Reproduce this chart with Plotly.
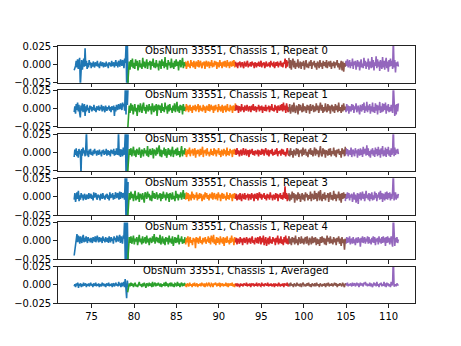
import numpy as np
import plotly.graph_objects as go

# ---------------- data (values in units of 1e-3) ----------------
seg_start = [72.95, 79.25, 86.0, 91.95, 98.25, 104.9]
seg_end = [79.3, 86.0, 91.95, 98.25, 104.9, 111.15]
seg_colors = ['#1f77b4', '#2ca02c', '#ff7f0e', '#d62728', '#8c564b', '#9467bd']
draw_order = [0, 2, 1, 3, 5, 4]

titles = ["ObsNum 33551, Chassis 1, Repeat 0",
          "ObsNum 33551, Chassis 1, Repeat 1",
          "ObsNum 33551, Chassis 1, Repeat 2",
          "ObsNum 33551, Chassis 1, Repeat 3",
          "ObsNum 33551, Chassis 1, Repeat 4",
          "ObsNum 33551, Chassis 1, Averaged"]

x_ticks = [75, 80, 85, 90, 95, 100, 105, 110]
y_ticks = [-0.025, 0.0, 0.025]
y_tick_text = ["\u22120.025", "0.000", "0.025"]

# Repeat 0
b0 = [-8,-6,-2,5,-4,7,-6,3,9,-30,-5,6,-7,4,8,-3,22,-2,5,-6,2,-4,6,-1,3,-5,
      2,-3,4,-1,-4,3,0,-2,5,-3,1,-5,2,4,-2,-1,3,-4,2,0,-3,4,-2,1,-5,3,-1,2,-3,5,-2,0,3,-4,1,6,-2,3,
      -4,5,2,-3,7,1,-2,6,3,-5,8,2,25,-30,28,-26]
g0 = [-30,-14,4,-7,6,-3,8,-5,2,-6,7,-2,5,-8,3,6,-4,1,-6,9,-3,4,-5,2,7,-6,3,-1,5,-7,4,-2,8,-4,2,-5,6,-3,1,-8,
      5,3,-6,7,-2,4,-5,10,-3,2,-7,6,-1,3,-5,8,-4,2,-6,5,-3,7,-2,4,-8,3,6,-4,2,9,-5,3,-2]
o0 = [-3,4,-6,2,5,-3,1,-5,6,-2,3,-4,5,-1,-6,4,2,-3,6,-4,1,5,-2,-5,3,-1,4,-6,2,5,-3,0,4,-5,3,-2,6,-4,2,-3,
      5,-1,4,-6,3,1,-4,6,-2,3,-5,2,4,-3,5,-1,-4,6,-2,3,-5,4,1,-3,5,-2,6,-4,3]
r0 = [4,-3,2,-5,3,-1,4,-4,1,3,-2,-5,4,0,-3,2,5,-4,1,-2,3,-3,4,-1,2,-5,3,1,-4,2,-2,4,-3,0,5,-4,2,-1,3,-5,
      2,4,-3,1,-2,3,-4,5,-1,2,-3,4,-5,1,3,-2,4,-4,2,-1,5,-3,2,-4,3,1,8,-5,6,-3,4,2]
br0 = [9,-5,6,-7,3,8,-4,5,-6,2,-3,7,-5,1,4,-6,3,-2,5,-7,2,6,-4,1,-5,4,-2,6,-6,3,-1,5,-4,2,-7,4,1,-5,6,-3,
       2,-6,5,-2,3,-4,6,-5,1,4,-3,5,-6,2,-2,4,-5,3,-1,6,-4,2,-7,3,5,-8,4,-10,2,-3]
p0 = [-3,5,-2,7,-4,1,6,-5,3,-2, 8,-6,4,-1,5,-7,2,6,-3,4, -8,3,7,-4,1,-5,9,-2,5,-6, 3,-3,8,-7,4,2,-5,10,-4,6,
      -8,3,-2,11,-5,7,-3,4,-9,6, 2,-6,10,-4,5,-7,3,9,-5,4, -10,6,-3,8,-2,5,-6,35,-4,6, -11,3,-2,4,-3]

# Repeat 1
b1 = [-5,3,-7,6,-2,8,-4,5,-6,-12,4,-3,7,-5,2,6,-10,3,-4,5,-2,1,-6,4,-1,3,-4,2,-2,5,-3,1,-5,3,0,-2,4,-3,2,-1,
      5,-4,1,3,-2,-5,4,0,-3,2,-1,4,-3,2,-5,3,1,-2,4,-10,2,-4,5,1,-2,6,3,-1,7,4,-2,8,3,6,-3,30,-8,32,5,30]
g1 = [-30,-15,4,-6,7,-3,5,-8,2,6,-4,1,-10,5,3,-5,7,-2,-6,4,8,-3,2,-7,5,0,-4,6,-2,3,-8,7,1,-5,4,-3,6,-10,3,5,
      -2,4,-6,7,-3,2,-5,8,-1,3,-7,5,-4,6,-2,1,-6,4,-3,7,-5,2,9,-4,3,-6,5,-2,4,-8,6,-3,2]
o1 = [3,-4,6,-2,4,-5,1,5,-3,2,-6,4,0,-2,5,-4,3,-1,6,-5,2,4,-3,1,-4,5,-2,3,-6,2,4,-1,-3,6,-4,2,5,-2,3,-6,
      4,-3,5,-1,2,-5,6,-2,3,-4,1,5,-6,3,-2,4,-5,2,6,-3,1,-4,5,-2,3,-6,4,2,-3,7]
r1 = [-3,5,-2,4,-6,3,1,-4,6,-2,2,-5,4,0,-3,5,-1,-4,3,2,-5,4,-2,6,-3,1,3,-5,2,-1,5,-4,3,-2,4,-6,2,1,-3,5,
      -4,2,-1,4,-5,3,-2,6,-3,1,-4,5,-2,3,-6,4,1,-3,5,-2,6,-4,8,-2,4,-6,7,-3,-5,2]
br1 = [-4,6,-7,3,5,-5,8,-2,-6,4,2,-8,6,-3,5,-1,-5,7,-4,3,1,-6,5,-2,4,-7,6,-3,2,5,-5,3,-4,7,-2,4,-6,3,8,-3,
       5,-6,2,-4,7,-1,-5,6,-3,4,-7,2,5,-4,3,-6,6,-2,4,-5,8,-3,2,-6,5,-4,7,-2,3]
p1 = [2,-5,6,-3,4,-7,3,1,-4,6, -2,5,-6,3,-1,7,-5,2,4,-3, -8,5,1,-4,6,-2,8,-6,3,-3, 9,-5,4,-2,6,-7,3,-4,8,-5,
      2,-6,7,-3,5,-8,4,-2,9,-6, 3,-5,7,-4,6,-2,8,-7,4,-3, 6,-5,2,-4,5,-3,-6,35,-2,-10, 5,-8,6,-4,7]

# Repeat 2
b2 = [-6,4,-3,6,-5,2,-7,5,-2,3,-30,5,-4,7,-1,3,-5,6,30,-4,2,-6,4,-2,5,-3,1,-4,3,-2,5,-1,2,-4,3,0,-3,4,-2,1,
      -5,3,-1,4,-3,2,-2,5,-4,1,3,-3,2,-5,4,-1,3,-2,5,-4,2,-3,6,1,-3,30,-4,5,-6,4,2,-5,7,-3,6,28,-28,32,-30,25]
g2 = [-28,-10,5,-3,6,-5,2,8,-4,3,-6,5,1,-3,7,-2,-7,4,2,-5,6,-1,3,-4,9,-6,2,5,-3,-1,6,-8,4,2,-4,7,-2,3,10,-5,
      4,-6,3,-2,7,-4,5,-7,2,6,-3,4,-5,1,8,-6,3,-2,5,-4,7,-3,2,-6,4,9,-5,3,-2,6]
o2 = [-3,5,-6,2,4,-2,7,-5,3,-1,5,-4,2,6,-7,3,-2,4,1,-5,5,-3,2,8,-6,3,-1,4,-4,6,-2,1,-5,3,5,-3,2,-4,6,-2,
      4,-5,3,-1,6,-3,2,-6,4,1,-4,5,-2,3,-5,7,-3,2,-4,5,-1,3,-6,4,-2,5,-3]
r2 = [4,-3,6,-2,3,-5,1,4,-4,2,6,-3,-1,5,-4,2,3,-6,4,-2,1,5,-3,2,-4,3,0,-2,4,-5,3,1,-3,5,-2,4,-4,2,6,-1,
      -3,4,-5,2,3,-2,5,-4,1,-3,4,-2,6,-5,2,-1,3,-4,5,-2,4,-3,1,-5,3,6,-2,-4]
br2 = [3,-5,6,-3,2,-7,4,1,-4,6,-2,5,-6,3,-1,4,-5,7,-3,2,5,-4,1,-6,4,-2,6,-3,3,-5,2,7,-4,5,-2,3,-6,4,9,-3,
       -5,6,-2,4,-7,3,1,-4,5,-3,6,-5,2,-2,7,-4,3,-6,4,-1,5,-3,2,-7,6,-2,4,-5,8]
p2 = [-4,6,-2,5,-5,3,1,-3,7,-6, 2,4,-2,-5,6,-1,3,-7,5,2, -4,6,-3,4,-6,8,-2,3,5,-4, 10,-3,6,-5,2,-7,4,-2,6,-4,
      3,-6,7,-2,5,-5,8,-3,4,-7, 6,-2,9,-5,3,-4,7,-6,5,-2, 8,-4,3,-6,6,-3,2,35,-5,7, -3,4,-1,5,-2]

# Repeat 3
b3 = [-4,5,-7,3,6,-3,8,-6,2,-4,5,-1,3,-5,2,4,-2,-4,3,1,-3,5,-2,0,4,-3,2,-5,6,-1,3,5,-2,-4,3,-1,2,-5,4,0,
      -3,5,-2,1,-4,3,-1,4,-3,2,-5,6,-2,3,-1,5,-4,2,-3,6,1,-2,5,3,-4,7,-3,6,4,-2,5,3,-4,30,-30,26,-30,20]
g3 = [-30,-12,5,-4,7,-2,4,-6,3,8,-5,1,-3,6,-7,4,2,-4,5,-2,-8,6,3,-3,7,-1,4,-5,2,-6,8,-2,5,-3,1,6,-4,3,-2,5,
      -6,4,-3,7,-1,3,-5,6,-2,4,-7,5,2,-4,6,-3,1,-6,8,-2,4,-5,3,-1,6,-4,2,9,-3,5]
o3 = [2,-4,6,-3,5,-6,3,1,-5,7,-2,4,-4,2,-1,6,-5,3,-3,5,-2,4,-6,2,3,-4,6,-1,5,-3,2,-5,4,1,-2,6,-4,3,5,-3,
      -2,4,-5,6,-1,3,-6,2,5,-3,4,-2,1,-5,6,-3,2,-4,5,-1,3,-6,4,-2,5,-3]
r3 = [-3,4,-5,2,3,-4,5,-2,-6,4,1,-3,5,-4,2,-1,4,-5,3,2,-4,5,-2,3,-6,4,1,-3,5,-5,2,6,-2,4,-4,3,-1,5,-3,2,
      -5,4,-2,3,-4,6,-1,2,-5,3,1,-4,5,-2,4,-6,3,-1,5,-3,2,-4,6,-2,14,-3,5,-6,3,-4]
br3 = [5,-6,3,-4,7,-2,5,-8,3,1,-5,6,-3,4,-7,2,5,-4,3,-6,6,-1,4,-5,2,-3,7,-6,4,1,-4,8,-3,5,-6,3,7,-5,9,-2,
       -6,4,-3,6,-5,2,-1,5,-7,3,6,-4,2,-5,8,-3,4,-6,3,-2,7,-5,4,-8,5,-3,6,-2,4]
p3 = [-6,4,-3,6,-2,5,-5,3,-1,4, -7,2,6,-4,3,-8,1,5,-10,4, -3,6,-5,2,7,-3,4,-6,5,8, -2,3,-4,5,-6,4,-3,6,-5,2,
      -4,7,-2,5,-6,3,-1,6,-4,8, -3,5,-7,4,2,-5,6,-3,7,-4, 5,-2,6,-5,4,-3,7,35,-5,2, 6,-4,3,-2,4]

# Repeat 4
b4 = [-20,-12,-4,4,9,-2,7,3,-4,6,1,-3,5,8,-2,4,-1,6,2,-3,5,0,3,-2,4,1,-3,5,2,-1,6,-2,3,7,1,-2,5,-1,4,2,
      -3,6,0,3,-2,5,1,-1,4,-3,6,2,-2,5,0,3,-4,6,1,4,-2,7,3,-1,5,8,-3,6,2,-4,7,3,28,-30,30,-30,26,-25]
g4 = [-30,-6,5,-3,6,-4,2,7,-5,3,-1,5,-6,4,8,-2,3,-5,6,-3,1,5,-4,7,-2,3,-6,4,2,-3,6,-1,9,-4,3,5,-2,4,-3,8,
      -5,2,6,-4,3,-6,5,-1,4,-5,7,-2,3,-4,6,-7,2,5,-3,4,-2,8,-5,3,-1,6,-4,2,-3,5]
o4 = [3,-5,4,-2,6,-8,2,5,-3,1,-6,4,-1,3,-10,5,-2,4,-4,2,6,-3,1,-5,4,-2,3,5,-4,2,-1,6,-3,4,-5,7,3,-2,8,-4,
      2,-6,5,-3,4,-1,-5,6,-2,3,-4,5,-7,2,4,-3,6,-2,1,-5,4,-3,7,-1,3,-6,5,-2]
r4 = [-2,4,-5,3,1,-4,5,-2,3,-6,2,4,-3,0,5,-5,3,-2,4,-4,2,6,-3,1,-5,4,2,-3,5,-4,3,6,-5,4,-2,7,-6,3,5,-7,
      -2,4,-5,6,-3,2,-4,5,-1,3,-6,4,-2,7,-5,3,-3,6,-4,2,-6,5,-2,7,-4,3,-5,6]
br4 = [6,-4,3,-6,5,-2,4,-5,7,-3,2,-6,5,1,-4,6,-3,3,-5,2,5,-4,6,-2,-6,4,1,-5,6,-3,4,-2,5,-6,3,-4,2,-7,5,-3,
       6,-2,4,-5,3,-6,7,-1,4,-4,6,-3,2,-5,5,-2,3,-6,4,-1,6,-4,3,-7,5,-3,2,-12,3]
p4 = [2,-4,5,-3,4,-2,6,-5,1,3, -4,5,-3,2,-6,4,1,-3,5,-2, 3,-8,4,-2,6,-3,2,5,-4,3, -1,6,-4,5,-3,2,-5,4,-2,6,
      -3,5,-6,3,-1,4,-5,6,-2,3, -4,5,-3,6,-2,4,-7,5,-3,6, -2,4,-5,3,6,-3,-8,35,-3,-7, 4,-2,5,-3,2]

# Averaged
ba = [-2,1,-3,2,-1,3,-4,1,0,2,-3,1,-2,3,-1,0,2,-3,1,-1,2,-2,0,3,-1,1,-3,2,0,-1,3,-2,1,-1,2,-3,1,0,-2,3,
      -1,2,-2,1,-3,2,0,-1,3,-2,1,-1,2,-3,1,2,-2,0,3,-1,1,-2,4,-1,2,-3,3,-2,1,4,-3,8,-4,-18,6,-3]
ga = [-10,-3,2,-2,3,-1,2,-3,1,3,-2,0,-3,2,4,-1,1,-3,2,-2,3,0,-4,2,1,-2,3,-1,2,-3,4,-2,1,3,-2,2,-1,3,0,-2,
      2,-3,1,-1,3,-2,4,-1,2,-3,1,2,-2,3,-1,0,-3,2,1,-2,4,-1,2,-3,1,3,-2,2,-1,3]
oa = [-2,1,-3,2,0,-2,3,-1,1,-3,2,-1,3,-2,0,2,-3,1,-1,2,-2,3,0,-1,2,-3,1,2,-2,0,3,-1,-2,2,1,-3,2,0,3,1,
      -2,2,-1,3,-3,1,0,2,-2,1,-1,3,-2,2,-3,1,0,2,-1,3,-2,1,-3,2]
ra = [-1,2,-2,1,0,-3,2,-1,1,-2,2,0,-1,3,-2,1,-1,2,-3,1,0,2,-2,1,-1,3,-2,0,2,-1,-2,3,-1,1,-2,2,0,-1,3,-2,
      1,-1,2,-2,0,1,-3,2,-1,1,-2,3,0,-2,1,-1,2,-3,2,0,-1,3,-2,1]
bra = [2,-2,3,-1,1,-3,2,0,-2,3,-1,1,-2,2,-3,1,3,-1,0,-2,2,-1,3,-2,1,-3,2,0,-1,2,-2,3,-1,1,-3,2,0,-2,1,-1,
       2,-3,1,0,3,-2,1,-1,2,-2,0,3,-1,2,-3,1,-1,2,0,-2,3,-1,-3,2]
pa = [0,2,-1,3,-2,1,-1,2,0,-2, 3,-1,1,2,-2,0,3,-1,2,-3, 1,3,-1,2,0,-2,3,1,4,-1, 2,-2,1,-1,3,-2,2,0,-3,1,
      3,-1,2,-2,4,-1,1,-3,2,0, 3,-2,1,-1,4,-2,2,-3,3,-1, 2,-2,1,-3,4,-1,2,40,-2,-1, 1,-2,2,0,-1]

rows = [
    [b0, g0, o0, r0, br0, p0],
    [b1, g1, o1, r1, br1, p1],
    [b2, g2, o2, r2, br2, p2],
    [b3, g3, o3, r3, br3, p3],
    [b4, g4, o4, r4, br4, p4],
    [ba, ga, oa, ra, bra, pa],
]
scale = 1e-3

# ---------------- figure ----------------
W, H = 461, 346
left, right = 0.125, 0.9
top, bottom = 0.88, 0.11
n = 6
ax_h = (top - bottom) / (n + (n - 1) * 0.2)
gap = 0.2 * ax_h

fig = go.Figure()
font = dict(family="DejaVu Sans", size=10, color="black")
layout = dict(width=W, height=H, margin=dict(l=0, r=0, t=0, b=0),
              paper_bgcolor="white", plot_bgcolor="white", showlegend=False,
              font=font, annotations=[])

for i in range(n):
    xa = "x" if i == 0 else f"x{i+1}"
    ya = "y" if i == 0 else f"y{i+1}"
    for s in draw_order:
        vals = rows[i][s]
        xs = np.linspace(seg_start[s], seg_end[s], len(vals))
        fig.add_trace(go.Scatter(x=xs, y=np.array(vals) * scale, mode="lines",
                                 line=dict(color=seg_colors[s], width=1.6),
                                 xaxis=xa, yaxis=ya, hoverinfo="skip"))
    ytop = top - i * (ax_h + gap)
    ybot = ytop - ax_h
    common = dict(showline=True, mirror=True, linecolor="#222", linewidth=0.9,
                  ticks="outside", ticklen=3.5, tickwidth=0.9, tickcolor="#222",
                  showgrid=False, zeroline=False, tickfont=font)
    layout["xaxis" if i == 0 else f"xaxis{i+1}"] = dict(
        domain=[left, right], anchor=ya, range=[71.0, 113.1],
        tickvals=x_ticks, showticklabels=(i == n - 1), **common)
    layout["yaxis" if i == 0 else f"yaxis{i+1}"] = dict(
        domain=[ybot, ytop], anchor=xa, range=[-0.025, 0.025],
        tickvals=y_ticks, ticktext=y_tick_text, **common)
    layout["annotations"].append(dict(
        text=titles[i], xref="paper", yref="paper", x=(left + right) / 2,
        y=ytop - 4.5 / H, xanchor="center", yanchor="middle",
        showarrow=False, font=font))

fig.update_layout(**layout)
fig.write_html("out.html")
